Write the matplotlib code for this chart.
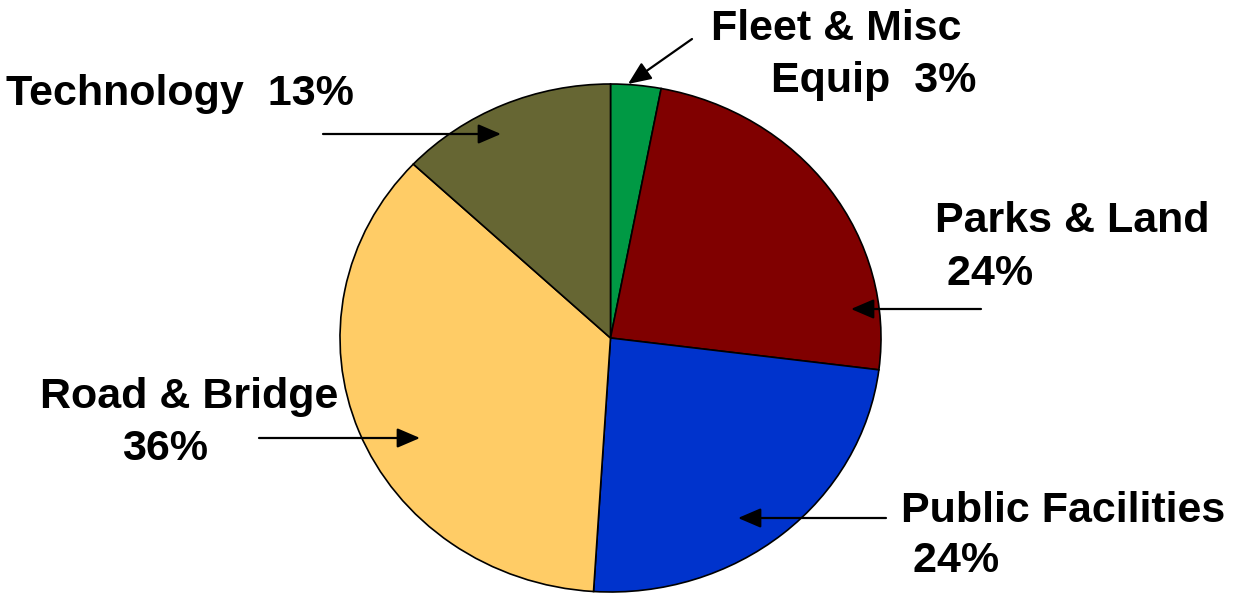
import matplotlib.pyplot as plt

plt.rcParams['font.family'] = ['Liberation Sans', 'DejaVu Sans']

# capital budget split, clockwise from the top
categories = ['Fleet & Misc Equip', 'Parks & Land', 'Public Facilities', 'Road & Bridge', 'Technology']
shares = [3, 24, 24, 36, 13]
colors = ['#009944', '#800000', '#0033CC', '#FFCC66', '#666633']

# label lines (first line, second line) per slice
label_lines = {
    'Fleet & Misc Equip': ('Fleet & Misc', 'Equip  {}%'),
    'Parks & Land': ('Parks & Land', ' {}%'),
    'Public Facilities': ('Public Facilities', ' {}%'),
    'Road & Bridge': ('Road & Bridge', '{}%'),
    'Technology': ('Technology  {}%', None),
}

W, H = 1237, 593
fig = plt.figure(figsize=(W / 100, H / 100), dpi=100)

# pie is slightly wider than tall, so give it its own axes box
cx, cy, rx, ry = 610.5, 338, 270.5, 254
ax = fig.add_axes([(cx - rx) / W, (H - cy - ry) / H, 2 * rx / W, 2 * ry / H])
ax.pie(shares, colors=colors, startangle=90, counterclock=False,
       wedgeprops=dict(edgecolor='black', linewidth=1.2))
ax.set_aspect('auto')
ax.set_xlim(-1, 1)
ax.set_ylim(-1, 1)
ax.axis('off')

# text positions: left edge and baseline of each line, in pixels from top-left
text_pos = {
    'Fleet & Misc Equip': [(711, 40), (771, 92)],
    'Parks & Land': [(935, 232), (935, 285)],
    'Public Facilities': [(901, 522), (901, 572)],
    'Road & Bridge': [(40, 408), (122, 460)],
    'Technology': [(6, 105)],
}
# arrows: tail -> tip, pixels from top-left
arrows = {
    'Fleet & Misc Equip': ((692, 39), (628, 84)),
    'Parks & Land': ((981, 309), (851, 309)),
    'Public Facilities': ((886, 518), (738, 518)),
    'Road & Bridge': ((259, 438), (420, 438)),
    'Technology': ((323, 134), (501, 134)),
}

for name, share in zip(categories, shares):
    lines = label_lines[name]
    for (x, y), line in zip(text_pos[name], lines):
        if line is None:
            continue
        fig.text(x / W, 1 - y / H, line.format(share), ha='left', va='baseline',
                 fontsize=31, fontweight='bold', color='black')
    (x0, y0), (x1, y1) = arrows[name]
    fig.add_artist(plt.Annotation('', xy=(x1 / W, 1 - y1 / H), xytext=(x0 / W, 1 - y0 / H),
                                  xycoords='figure fraction', textcoords='figure fraction',
                                  arrowprops=dict(arrowstyle='-|>,head_length=0.7,head_width=0.3',
                                                  mutation_scale=20, lw=1.6, color='black',
                                                  shrinkA=0, shrinkB=0)))

fig.savefig('out.png', dpi=100, facecolor='white')
